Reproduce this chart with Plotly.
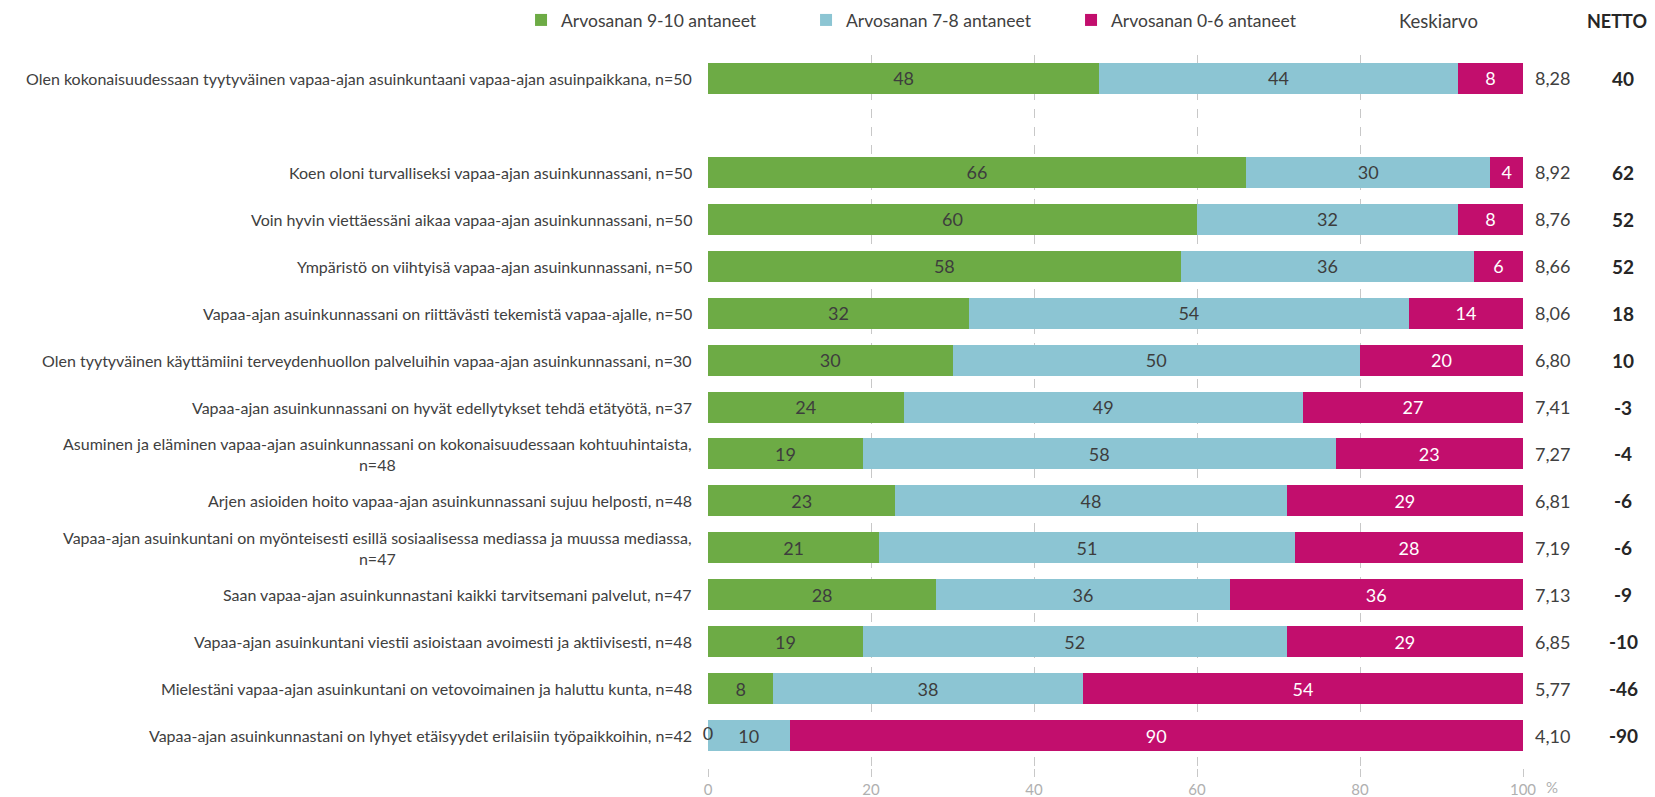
import plotly.graph_objects as go

statements = [
    "Olen kokonaisuudessaan tyytyväinen vapaa-ajan asuinkuntaani vapaa-ajan asuinpaikkana, n=50",
    " ",
    "Koen oloni turvalliseksi vapaa-ajan asuinkunnassani, n=50",
    "Voin hyvin viettäessäni aikaa vapaa-ajan asuinkunnassani, n=50",
    "Ympäristö on viihtyisä vapaa-ajan asuinkunnassani, n=50",
    "Vapaa-ajan asuinkunnassani on riittävästi tekemistä vapaa-ajalle, n=50",
    "Olen tyytyväinen käyttämiini terveydenhuollon palveluihin vapaa-ajan asuinkunnassani, n=30",
    "Vapaa-ajan asuinkunnassani on hyvät edellytykset tehdä etätyötä, n=37",
    "Asuminen ja eläminen vapaa-ajan asuinkunnassani on kokonaisuudessaan kohtuuhintaista,<br>n=48",
    "Arjen asioiden hoito vapaa-ajan asuinkunnassani sujuu helposti, n=48",
    "Vapaa-ajan asuinkuntani on myönteisesti esillä sosiaalisessa mediassa ja muussa mediassa,<br>n=47",
    "Saan vapaa-ajan asuinkunnastani kaikki tarvitsemani palvelut, n=47",
    "Vapaa-ajan asuinkuntani viestii asioistaan avoimesti ja aktiivisesti, n=48",
    "Mielestäni vapaa-ajan asuinkuntani on vetovoimainen ja haluttu kunta, n=48",
    "Vapaa-ajan asuinkunnastani on lyhyet etäisyydet erilaisiin työpaikkoihin, n=42",
]
rows = [s for s in statements if s.strip()]

high = [48, 66, 60, 58, 32, 30, 24, 19, 23, 21, 28, 19, 8, 0]
mid = [44, 30, 32, 36, 54, 50, 49, 58, 48, 51, 36, 52, 38, 10]
low = [8, 4, 8, 6, 14, 20, 27, 23, 29, 28, 36, 29, 54, 90]
mean = ["8,28", "8,92", "8,76", "8,66", "8,06", "6,80", "7,41", "7,27", "6,81", "7,19", "7,13", "6,85", "5,77", "4,10"]
netto = ["40", "62", "52", "52", "18", "10", "-3", "-4", "-6", "-6", "-9", "-10", "-46", "-90"]

series_names = ["Arvosanan 9-10 antaneet", "Arvosanan 7-8 antaneet", "Arvosanan 0-6 antaneet"]
colors = ["#6DAB45", "#8CC5D3", "#C20E6D"]
text_colors = ["#3d3d3d", "#3d3d3d", "#ffffff"]
legend_widths = [240, 220, 200]
x_ticks = [0, 20, 40, 60, 80, 100]

FONT = "Lato"

fig = go.Figure()
for name, vals, col, tcol, lw in zip(series_names, [high, mid, low], colors, text_colors, legend_widths):
    fig.add_trace(go.Bar(
        y=rows, x=vals, name=name, orientation="h",
        marker=dict(color=col, line=dict(width=0)),
        text=[str(v) for v in vals], textposition="inside",
        insidetextanchor="middle", constraintext="none",
        textfont=dict(family=FONT, size=18, color=tcol),
        legendwidth=lw,
        hoverinfo="skip",
    ))

# labels for zero-width segments (not drawable inside a bar)
zero_rows = [r for r, v in zip(rows, high) if v == 0]
zero_vals = [v for v in high if v == 0]
fig.add_trace(go.Scatter(
    y=zero_rows, x=zero_vals, mode="text", text=[str(v) for v in zero_vals],
    textposition="middle center", textfont=dict(family=FONT, size=18, color=text_colors[0]),
    showlegend=False, cliponaxis=False, hoverinfo="skip",
))

# left labels
for s in rows:
    fig.add_annotation(x=0, y=s, xref="x", yref="y", text=s, showarrow=False,
                       xanchor="right", align="center", xshift=-14,
                       font=dict(family=FONT, size=16, color="#404040"))

# mean and netto columns
for s, m, n in zip(rows, mean, netto):
    fig.add_annotation(x=1.0368, y=s, xref="paper", yref="y", text=m, showarrow=False,
                       xanchor="center", font=dict(family=FONT, size=18, color="#404040"))
    fig.add_annotation(x=1.1227, y=s, xref="paper", yref="y", text=f"<b>{n}</b>", showarrow=False,
                       xanchor="center", font=dict(family=FONT, size=19, color="#262626"))

# header texts
fig.add_annotation(x=0.845, y=1.048, yref="paper", xref="paper",
                   text="Keskiarvo", showarrow=False, xanchor="left", yanchor="middle",
                   font=dict(family=FONT, size=18.5, color="#404040"))
fig.add_annotation(x=1.115, y=1.048, yref="paper", xref="paper",
                   text="<b>NETTO</b>", showarrow=False, xanchor="center", yanchor="middle",
                   font=dict(family=FONT, size=18, color="#262626"))
fig.add_annotation(x=1.0356, y=0, yref="paper", xref="paper", yshift=-19, yanchor="middle",
                   text="%", showarrow=False, xanchor="center",
                   font=dict(family=FONT, size=15, color="#b0b0b0"))

fig.update_layout(
    width=1655, height=797,
    barmode="stack", bargap=0.34,
    plot_bgcolor="white", paper_bgcolor="white",
    margin=dict(l=708, r=132, t=55, b=29, autoexpand=False),
    showlegend=True,
    legend=dict(orientation="h", x=-0.2294, xanchor="left", y=1.049, yanchor="middle",
                yref="paper", font=dict(family=FONT, size=17.5, color="#404040"),
                traceorder="normal", itemwidth=30, bgcolor="rgba(0,0,0,0)",
                entrywidthmode="pixels"),
)
fig.update_xaxes(range=[0, 100], tickvals=x_ticks, ticktext=[str(t) for t in x_ticks],
                 showgrid=True, gridcolor="#c8c8c8", griddash="dash", gridwidth=1,
                 zeroline=False, showline=False, ticks="outside", ticklen=8, automargin=False,
                 tickcolor="#c8c8c8", tickfont=dict(family=FONT, size=15, color="#b0b0b0"))
fig.update_yaxes(categoryorder="array", categoryarray=statements, type="category",
                 range=[14.69, -0.5], showticklabels=False, showgrid=False, zeroline=False,
                 automargin=False)

fig.write_html("out.html", config={"displayModeBar": False},
               post_script="document.body.style.margin='0';document.body.style.overflow='hidden';")
